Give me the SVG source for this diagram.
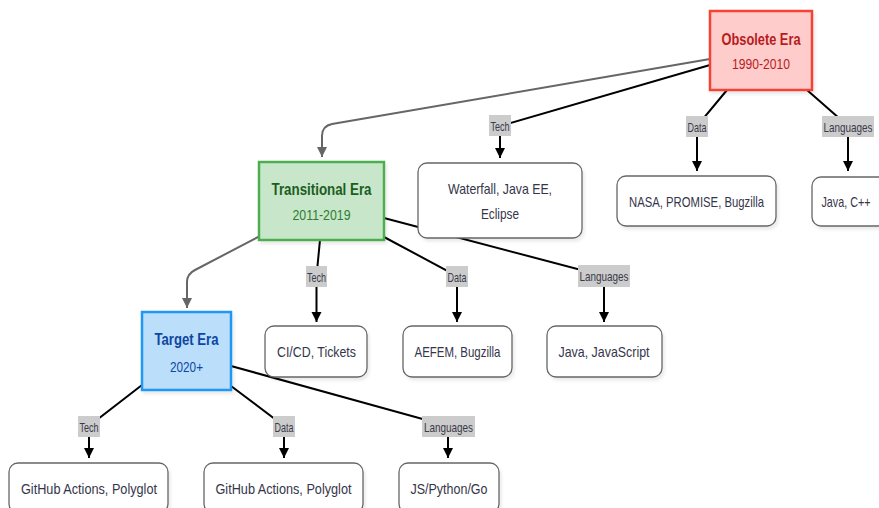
<svg xmlns="http://www.w3.org/2000/svg" width="879" height="508" viewBox="0 0 879 508">
  <defs>
    <marker id="arrow" viewBox="0 0 10 10" refX="10" refY="5" markerWidth="10" markerHeight="11" markerUnits="userSpaceOnUse" orient="auto">
      <path d="M0,0 L10,5 L0,10 z" fill="#000"/>
    </marker>
    <marker id="arrow-grey" viewBox="0 0 10 10" refX="10" refY="5" markerWidth="10" markerHeight="11" markerUnits="userSpaceOnUse" orient="auto">
      <path d="M0,0 L10,5 L0,10 z" fill="#666"/>
    </marker>
    <filter id="shadow" x="-10%" y="-10%" width="130%" height="140%">
      <feDropShadow dx="2" dy="3" stdDeviation="1.5" flood-color="#000" flood-opacity="0.08"/>
    </filter>
    <style>
      text { font-family: "Liberation Sans", Arial, sans-serif; text-anchor: middle; }
      .leaf rect { fill: #fff; stroke: #666; stroke-width: 1.3; filter: url(#shadow); }
      .leaf text { font-size: 15px; fill: #35354a; }
      .era text.title { font-size: 16px; font-weight: bold; }
      .era text.year { font-size: 15px; }
      .edge { fill: none; stroke: #000; stroke-width: 2; }
      .flow { fill: none; stroke: #666; stroke-width: 2; }
      .lbl rect { fill: #cccccc; }
      .lbl text { font-size: 13px; fill: #3a3a4a; }
    </style>
  </defs>

  <!-- connectors -->
  <g id="connectors">
    <!-- era progression -->
    <path class="flow" d="M710,59 L332,124 Q322,126 322,136 L322,157" marker-end="url(#arrow-grey)"/>
    <path class="flow" d="M260,236 L195,270 Q187,274 187,282 L187,308" marker-end="url(#arrow-grey)"/>

    <!-- Obsolete era -->
    <path class="edge" d="M710,65 L500,126 L500,158" marker-end="url(#arrow)"/>
    <path class="edge" d="M727,90 L697,126 L697,171" marker-end="url(#arrow)"/>
    <path class="edge" d="M807,90 L848,126 L848,171" marker-end="url(#arrow)"/>

    <!-- Transitional era -->
    <path class="edge" d="M320,240 L316.5,276 L316.5,322" marker-end="url(#arrow)"/>
    <path class="edge" d="M384,237 L457,276 L457,322" marker-end="url(#arrow)"/>
    <path class="edge" d="M384,218 L604,276 L604,322" marker-end="url(#arrow)"/>

    <!-- Target era -->
    <path class="edge" d="M142,385 L89,426 L89,458" marker-end="url(#arrow)"/>
    <path class="edge" d="M231,386 L284,426 L284,458" marker-end="url(#arrow)"/>
    <path class="edge" d="M231,366 L448,426 L448,458" marker-end="url(#arrow)"/>

    <!-- edge labels -->
    <g class="lbl">
      <rect x="489" y="115" width="22" height="21"/><text x="500" y="130.5" textLength="19" lengthAdjust="spacingAndGlyphs">Tech</text>
      <rect x="686" y="116" width="22" height="21"/><text x="697" y="131.5" textLength="19" lengthAdjust="spacingAndGlyphs">Data</text>
      <rect x="822" y="116" width="52" height="21"/><text x="848" y="131.5" textLength="49" lengthAdjust="spacingAndGlyphs">Languages</text>

      <rect x="306" y="266" width="21" height="21"/><text x="316.5" y="281.5" textLength="19" lengthAdjust="spacingAndGlyphs">Tech</text>
      <rect x="446" y="266" width="22" height="21"/><text x="457" y="281.5" textLength="19" lengthAdjust="spacingAndGlyphs">Data</text>
      <rect x="578" y="265" width="52" height="22"/><text x="604" y="281" textLength="49" lengthAdjust="spacingAndGlyphs">Languages</text>

      <rect x="78" y="416" width="22" height="21"/><text x="89" y="431.5" textLength="19" lengthAdjust="spacingAndGlyphs">Tech</text>
      <rect x="273" y="416" width="22" height="21"/><text x="284" y="431.5" textLength="19" lengthAdjust="spacingAndGlyphs">Data</text>
      <rect x="422" y="416" width="53" height="21"/><text x="448.5" y="431.5" textLength="49" lengthAdjust="spacingAndGlyphs">Languages</text>
    </g>
  </g>

  <!-- era nodes -->
  <g id="obsolete" class="era">
    <rect x="710" y="11" width="102" height="79" fill="#ffcccc" stroke="#f44336" stroke-width="2.5" filter="url(#shadow)"/>
    <text class="title" x="761" y="44.5" fill="#b71c1c" textLength="79" lengthAdjust="spacingAndGlyphs">Obsolete Era</text>
    <text class="year" x="761" y="69" fill="#b71c1c" textLength="58" lengthAdjust="spacingAndGlyphs">1990-2010</text>
  </g>

  <g id="transitional" class="era">
    <rect x="259" y="162" width="125" height="78" fill="#c8e6c9" stroke="#4caf50" stroke-width="2.5" filter="url(#shadow)"/>
    <text class="title" x="321.5" y="195" fill="#1b5e20" textLength="100" lengthAdjust="spacingAndGlyphs">Transitional Era</text>
    <text class="year" x="321.5" y="219.5" fill="#2e7d32" textLength="58" lengthAdjust="spacingAndGlyphs">2011-2019</text>
  </g>

  <g id="target" class="era">
    <rect x="142" y="312" width="89" height="78" fill="#bbdefb" stroke="#2196f3" stroke-width="2.5" filter="url(#shadow)"/>
    <text class="title" x="186.5" y="345" fill="#0d47a1" textLength="64" lengthAdjust="spacingAndGlyphs">Target Era</text>
    <text class="year" x="186.5" y="371.5" fill="#0d47a1" textLength="33" lengthAdjust="spacingAndGlyphs">2020+</text>
  </g>

  <!-- obsolete era details -->
  <g id="obs-tech" class="leaf">
    <rect x="418" y="163" width="164" height="75" rx="9"/>
    <text x="500" y="193.5" textLength="104" lengthAdjust="spacingAndGlyphs">Waterfall, Java EE,</text>
    <text x="500" y="218.5" textLength="38" lengthAdjust="spacingAndGlyphs">Eclipse</text>
  </g>
  <g id="obs-data" class="leaf">
    <rect x="617" y="176" width="159" height="50" rx="9"/>
    <text x="696.5" y="206.5" textLength="135" lengthAdjust="spacingAndGlyphs">NASA, PROMISE, Bugzilla</text>
  </g>
  <g id="obs-lang" class="leaf">
    <rect x="812" y="177" width="75" height="49" rx="9"/>
    <text x="846" y="206.5" textLength="49" lengthAdjust="spacingAndGlyphs">Java, C++</text>
  </g>

  <!-- transitional era details -->
  <g id="trans-tech" class="leaf">
    <rect x="265" y="326" width="102" height="51" rx="9"/>
    <text x="316.5" y="356.5" textLength="79" lengthAdjust="spacingAndGlyphs">CI/CD, Tickets</text>
  </g>
  <g id="trans-data" class="leaf">
    <rect x="403" y="326" width="109" height="51" rx="9"/>
    <text x="457.5" y="356.5" textLength="86" lengthAdjust="spacingAndGlyphs">AEFEM, Bugzilla</text>
  </g>
  <g id="trans-lang" class="leaf">
    <rect x="547" y="326" width="115" height="51" rx="9"/>
    <text x="604" y="356.5" textLength="91" lengthAdjust="spacingAndGlyphs">Java, JavaScript</text>
  </g>

  <!-- target era details -->
  <g id="tgt-tech" class="leaf">
    <rect x="9" y="463" width="159" height="50" rx="9"/>
    <text x="89" y="493.5" textLength="136" lengthAdjust="spacingAndGlyphs">GitHub Actions, Polyglot</text>
  </g>
  <g id="tgt-data" class="leaf">
    <rect x="204" y="463" width="159" height="50" rx="9"/>
    <text x="283.5" y="493.5" textLength="136" lengthAdjust="spacingAndGlyphs">GitHub Actions, Polyglot</text>
  </g>
  <g id="tgt-lang" class="leaf">
    <rect x="399" y="463" width="100" height="50" rx="9"/>
    <text x="449" y="493.5" textLength="77" lengthAdjust="spacingAndGlyphs">JS/Python/Go</text>
  </g>
</svg>
